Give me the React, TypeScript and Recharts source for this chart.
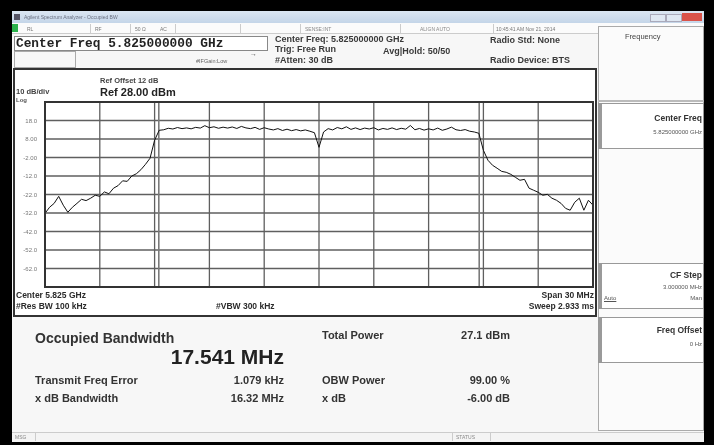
import React from "react";
import { CartesianGrid, Line, LineChart, ReferenceLine, XAxis, YAxis } from "recharts";

// ---------------------------------------------------------------------------
// Data
// ---------------------------------------------------------------------------

const SPAN_MHZ = 30;
const OBW_MHZ = 17.541;
const REF_DBM = 28;
const DB_PER_DIV = 10;

// sweep points, 0.25 MHz apart, from 5.810 GHz to 5.840 GHz (dBm)
const TRACE_DBM = [
  -32.2, -28.9, -26.8, -23.0, -27.8, -31.6, -28.9, -26.8, -24.6, -25.3,
  -24.0, -22.4, -23.0, -20.6, -21.6, -18.6, -17.2, -14.6, -14.9, -12.0,
  -10.8, -8.6, -5.7, -2.4, 7.3, 12.7,
  13.0, 13.8, 13.4, 14.2, 13.6, 14.0, 13.5, 14.3, 13.9, 15.2,
  14.1, 14.6, 13.8, 14.4, 13.9, 14.5, 13.7, 14.8, 14.0, 13.6,
  14.3, 13.2, 14.1, 13.4, 12.9, 13.6, 12.6, 13.3, 12.5, 13.1,
  12.4, 12.9, 12.2, 11.4, 3.5, 11.8, 13.6, 12.9, 14.2, 13.5,
  14.6, 13.2, 14.0, 13.1, 13.9, 13.4, 14.1, 12.9, 13.7, 13.2,
  14.0, 13.1, 13.8, 13.3, 15.3, 13.0, 13.7, 12.8, 13.5, 12.9,
  13.9, 12.7, 13.4, 14.4, 13.0, 12.6, 13.1, 12.2, 11.8,
  11.1, 1.9, -3.5, -6.2, -7.8, -9.5, -10.0, -11.1, -12.7, -14.3,
  -13.8, -18.6, -19.7, -20.8, -22.4, -21.9, -24.0, -25.1, -26.8, -29.5,
  -30.5, -26.2, -24.0, -30.5, -25.1, -27.8,
];

const X_DIV_TICKS = [0, 12, 24, 36, 48, 60, 72, 84, 96, 108, 120];
const Y_DIV_TICKS = [28, 18, 8, -2, -12, -22, -32, -42, -52, -62, -72];

const LEFT_RESULTS = [
  { label: "Transmit Freq Error", value: "1.079 kHz" },
  { label: "x dB Bandwidth", value: "16.32 MHz" },
];
const RIGHT_RESULTS = [
  { label: "Total Power", value: "27.1 dBm" },
  { label: "OBW Power", value: "99.00 %" },
  { label: "x dB", value: "-6.00 dB" },
];

const chartData = TRACE_DBM.map((v, i) => ({ i, dbm: v }));
const pointsPerMhz = (TRACE_DBM.length - 1) / SPAN_MHZ;
const centerIdx = (TRACE_DBM.length - 1) / 2;
const obwLeft = centerIdx - (OBW_MHZ / 2) * pointsPerMhz;
const obwRight = centerIdx + (OBW_MHZ / 2) * pointsPerMhz;

const FONT = "'Liberation Sans', Arial, sans-serif";
const INK = "#2b2b2b";

// ---------------------------------------------------------------------------
// Helpers
// ---------------------------------------------------------------------------

function T({
  x,
  y,
  size = 8,
  bold = false,
  right = false,
  color = INK,
  font = FONT,
  children,
}: {
  x: number;
  y: number;
  size?: number;
  bold?: boolean;
  right?: boolean;
  color?: string;
  font?: string;
  children: React.ReactNode;
}) {
  const pos: React.CSSProperties = right ? { right: 714 - x } : { left: x };
  return (
    <div
      style={{
        position: "absolute",
        top: y,
        ...pos,
        transform: "translateY(-50%)",
        fontSize: size,
        lineHeight: 1,
        fontWeight: bold ? 700 : 400,
        fontFamily: font,
        color,
        whiteSpace: "nowrap",
      }}
    >
      {children}
    </div>
  );
}

function Box({ x, y, w, h, border = "#9a9a9a", bg, style }: any) {
  return (
    <div
      style={{
        position: "absolute",
        left: x,
        top: y,
        width: w,
        height: h,
        border: `1px solid ${border}`,
        background: bg,
        boxSizing: "border-box",
        ...style,
      }}
    />
  );
}

const fmtTick = (v: number) => {
  if (v === REF_DBM || v === REF_DBM - 10 * DB_PER_DIV) return "";
  return Math.abs(v) >= 10 ? v.toFixed(1) : v.toFixed(2);
};

// ---------------------------------------------------------------------------
// Trace
// ---------------------------------------------------------------------------

function Trace() {
  return (
    <div style={{ position: "absolute", left: 14, top: 95 }}>
      <LineChart
        width={581}
        height={195}
        data={chartData}
        margin={{ top: 7, right: 2, bottom: 3, left: 0 }}
      >
        <CartesianGrid stroke="#5f5f5f" strokeWidth={1.3} />
        <XAxis
          dataKey="i"
          type="number"
          domain={[0, TRACE_DBM.length - 1]}
          ticks={X_DIV_TICKS}
          hide
        />
        <YAxis
          type="number"
          domain={[REF_DBM - 10 * DB_PER_DIV, REF_DBM]}
          ticks={Y_DIV_TICKS}
          width={31}
          axisLine={false}
          tickLine={false}
          tickMargin={2}
          tickFormatter={fmtTick}
          tick={{ fontSize: 6, fill: "#777", fontFamily: FONT }}
          interval={0}
        />
        <ReferenceLine x={obwLeft} stroke="#7a7a7a" strokeWidth={1.6} />
        <ReferenceLine x={obwRight} stroke="#7a7a7a" strokeWidth={1.6} />
        <Line
          type="linear"
          dataKey="dbm"
          stroke="#111"
          strokeWidth={1}
          dot={false}
          isAnimationActive={false}
        />
      </LineChart>
      <div
        style={{
          position: "absolute",
          left: 30,
          top: 6,
          width: 550,
          height: 187,
          border: "2px solid #333",
          boxSizing: "border-box",
          pointerEvents: "none",
        }}
      />
    </div>
  );
}

// ---------------------------------------------------------------------------
// Screen
// ---------------------------------------------------------------------------

export default function App() {
  return (
    <div
      style={{
        position: "absolute",
        left: 0,
        top: 0,
        width: 714,
        height: 445,
        background: "#000",
        overflow: "hidden",
        filter: "blur(0.35px)",
      }}
    >
      {/* window */}
      <div style={{ position: "absolute", left: 12, top: 11, width: 692, height: 430, background: "#f7f7f7" }} />

      {/* title bar */}
      <div
        style={{
          position: "absolute",
          left: 12,
          top: 11,
          width: 692,
          height: 12,
          background: "linear-gradient(#dbe6f2, #c4d5e8)",
        }}
      />
      <div style={{ position: "absolute", left: 14, top: 14, width: 6, height: 6, background: "#556" }} />
      <T x={24} y={17} size={5} color="#6a7080">Agilent Spectrum Analyzer - Occupied BW</T>
      <div style={{ position: "absolute", left: 650, top: 14, width: 14, height: 6, background: "#dfe8f3", border: "1px solid #aab" }} />
      <div style={{ position: "absolute", left: 666, top: 14, width: 14, height: 6, background: "#dfe8f3", border: "1px solid #aab" }} />
      <div style={{ position: "absolute", left: 682, top: 13, width: 20, height: 8, background: "#d9534a" }} />

      {/* status row */}
      <div style={{ position: "absolute", left: 12, top: 23, width: 692, height: 10, background: "#fbfbfb", borderBottom: "1px solid #ccc" }} />
      <div style={{ position: "absolute", left: 12, top: 24, width: 6, height: 8, background: "#2bb24c" }} />
      <T x={27} y={28.5} size={5} color="#777">RL</T>
      <T x={95} y={28.5} size={5} color="#777">RF</T>
      <T x={135} y={28.5} size={5} color="#777">50 Ω</T>
      <T x={160} y={28.5} size={5} color="#777">AC</T>
      <T x={305} y={28.5} size={5} color="#888">SENSE:INT</T>
      <T x={420} y={28.5} size={5} color="#888">ALIGN AUTO</T>
      <T x={496} y={28.5} size={5} color="#777">10:45:41 AM Nov 21, 2014</T>
      {[90, 130, 175, 240, 300, 400, 493].map((x) => (
        <div key={x} style={{ position: "absolute", left: x, top: 24, width: 1, height: 9, background: "#ccc" }} />
      ))}

      {/* header */}
      <Box x={14} y={36} w={254} h={15} border="#888" bg="#fff" />
      <T x={16} y={43.5} size={12.8} bold font="'Liberation Mono', monospace" color="#222">
        Center Freq 5.825000000 GHz
      </T>
      <Box x={14} y={51} w={62} h={17} border="#aaa" />
      <T x={196} y={62} size={5.5} color="#666">#IFGain:Low</T>
      <T x={250} y={53} size={7} color="#555">→</T>
      <T x={275} y={39} size={9} bold color="#3a3a3a">Center Freq: 5.825000000 GHz</T>
      <T x={275} y={49} size={9} bold color="#3a3a3a">Trig: Free Run</T>
      <T x={275} y={60} size={9} bold color="#3a3a3a">#Atten: 30 dB</T>
      <T x={383} y={51} size={9} bold color="#3a3a3a">Avg|Hold: 50/50</T>
      <T x={490} y={40} size={9} bold color="#3a3a3a">Radio Std: None</T>
      <T x={490} y={60} size={9} bold color="#3a3a3a">Radio Device: BTS</T>

      {/* main measurement panel */}
      <Box x={13} y={68} w={584} h={249} border="#333" bg="#fff" style={{ borderWidth: 2 }} />
      <T x={100} y={80.5} size={7.5} bold color="#444">Ref Offset 12 dB</T>
      <T x={16} y={92} size={7.5} bold color="#444">10 dB/div</T>
      <T x={100} y={92} size={11} bold color="#222">Ref 28.00 dBm</T>
      <T x={16} y={99.5} size={6} bold color="#555">Log</T>

      <Trace />

      <T x={16} y={295} size={8.5} bold>Center 5.825 GHz</T>
      <T x={16} y={306} size={8.5} bold>#Res BW 100 kHz</T>
      <T x={216} y={306} size={8.5} bold>#VBW 300 kHz</T>
      <T x={594} y={295} size={8.5} bold right>Span 30 MHz</T>
      <T x={594} y={306} size={8.5} bold right>Sweep 2.933 ms</T>

      {/* results */}
      <T x={35} y={338} size={14} bold color="#333">Occupied Bandwidth</T>
      <T x={284} y={356} size={21} bold color="#222" right>17.541 MHz</T>
      {LEFT_RESULTS.map((r, k) => (
        <React.Fragment key={r.label}>
          <T x={35} y={380 + k * 18} size={11} bold color="#333">{r.label}</T>
          <T x={284} y={380 + k * 18} size={11} bold color="#333" right>{r.value}</T>
        </React.Fragment>
      ))}
      {RIGHT_RESULTS.map((r, k) => (
        <React.Fragment key={r.label}>
          <T x={322} y={k === 0 ? 335 : 380 + (k - 1) * 18} size={11} bold color="#333">{r.label}</T>
          <T x={510} y={k === 0 ? 335 : 380 + (k - 1) * 18} size={11} bold color="#333" right>{r.value}</T>
        </React.Fragment>
      ))}

      {/* softkey panel */}
      <Box x={598} y={26} w={106} h={405} border="#aaa" bg="#fbfbfb" />
      <T x={625} y={37} size={7.5} color="#444">Frequency</T>
      <Box x={598} y={100} w={106} h={2} border="#bbb" />
      <Box x={598} y={103} w={106} h={46} border="#999" bg="#fff" style={{ borderLeft: "4px solid #9a9a9a" }} />
      <T x={702} y={118} size={8.5} bold right color="#333">Center Freq</T>
      <T x={702} y={132} size={6} right color="#555">5.825000000 GHz</T>
      <Box x={598} y={263} w={106} h={46} border="#999" bg="#fff" style={{ borderLeft: "4px solid #9a9a9a" }} />
      <T x={702} y={275} size={8.5} bold right color="#333">CF Step</T>
      <T x={702} y={287} size={6} right color="#555">3.000000 MHz</T>
      <T x={604} y={298} size={6} color="#555"><u>Auto</u></T>
      <T x={702} y={298} size={6} right color="#555">Man</T>
      <Box x={598} y={317} w={106} h={46} border="#999" bg="#fff" style={{ borderLeft: "4px solid #9a9a9a" }} />
      <T x={702} y={330} size={8.5} bold right color="#333">Freq Offset</T>
      <T x={702} y={344} size={6} right color="#555">0 Hz</T>

      {/* message bar */}
      <div style={{ position: "absolute", left: 12, top: 432, width: 692, height: 9, background: "#f4f4f4", borderTop: "1px solid #ccc" }} />
      <T x={15} y={437} size={5} color="#888">MSG</T>
      <div style={{ position: "absolute", left: 35, top: 432, width: 1, height: 9, background: "#ccc" }} />
      <div style={{ position: "absolute", left: 452, top: 432, width: 1, height: 9, background: "#ccc" }} />
      <T x={456} y={437} size={5} color="#888">STATUS</T>
      <div style={{ position: "absolute", left: 490, top: 432, width: 1, height: 9, background: "#ccc" }} />
    </div>
  );
}
